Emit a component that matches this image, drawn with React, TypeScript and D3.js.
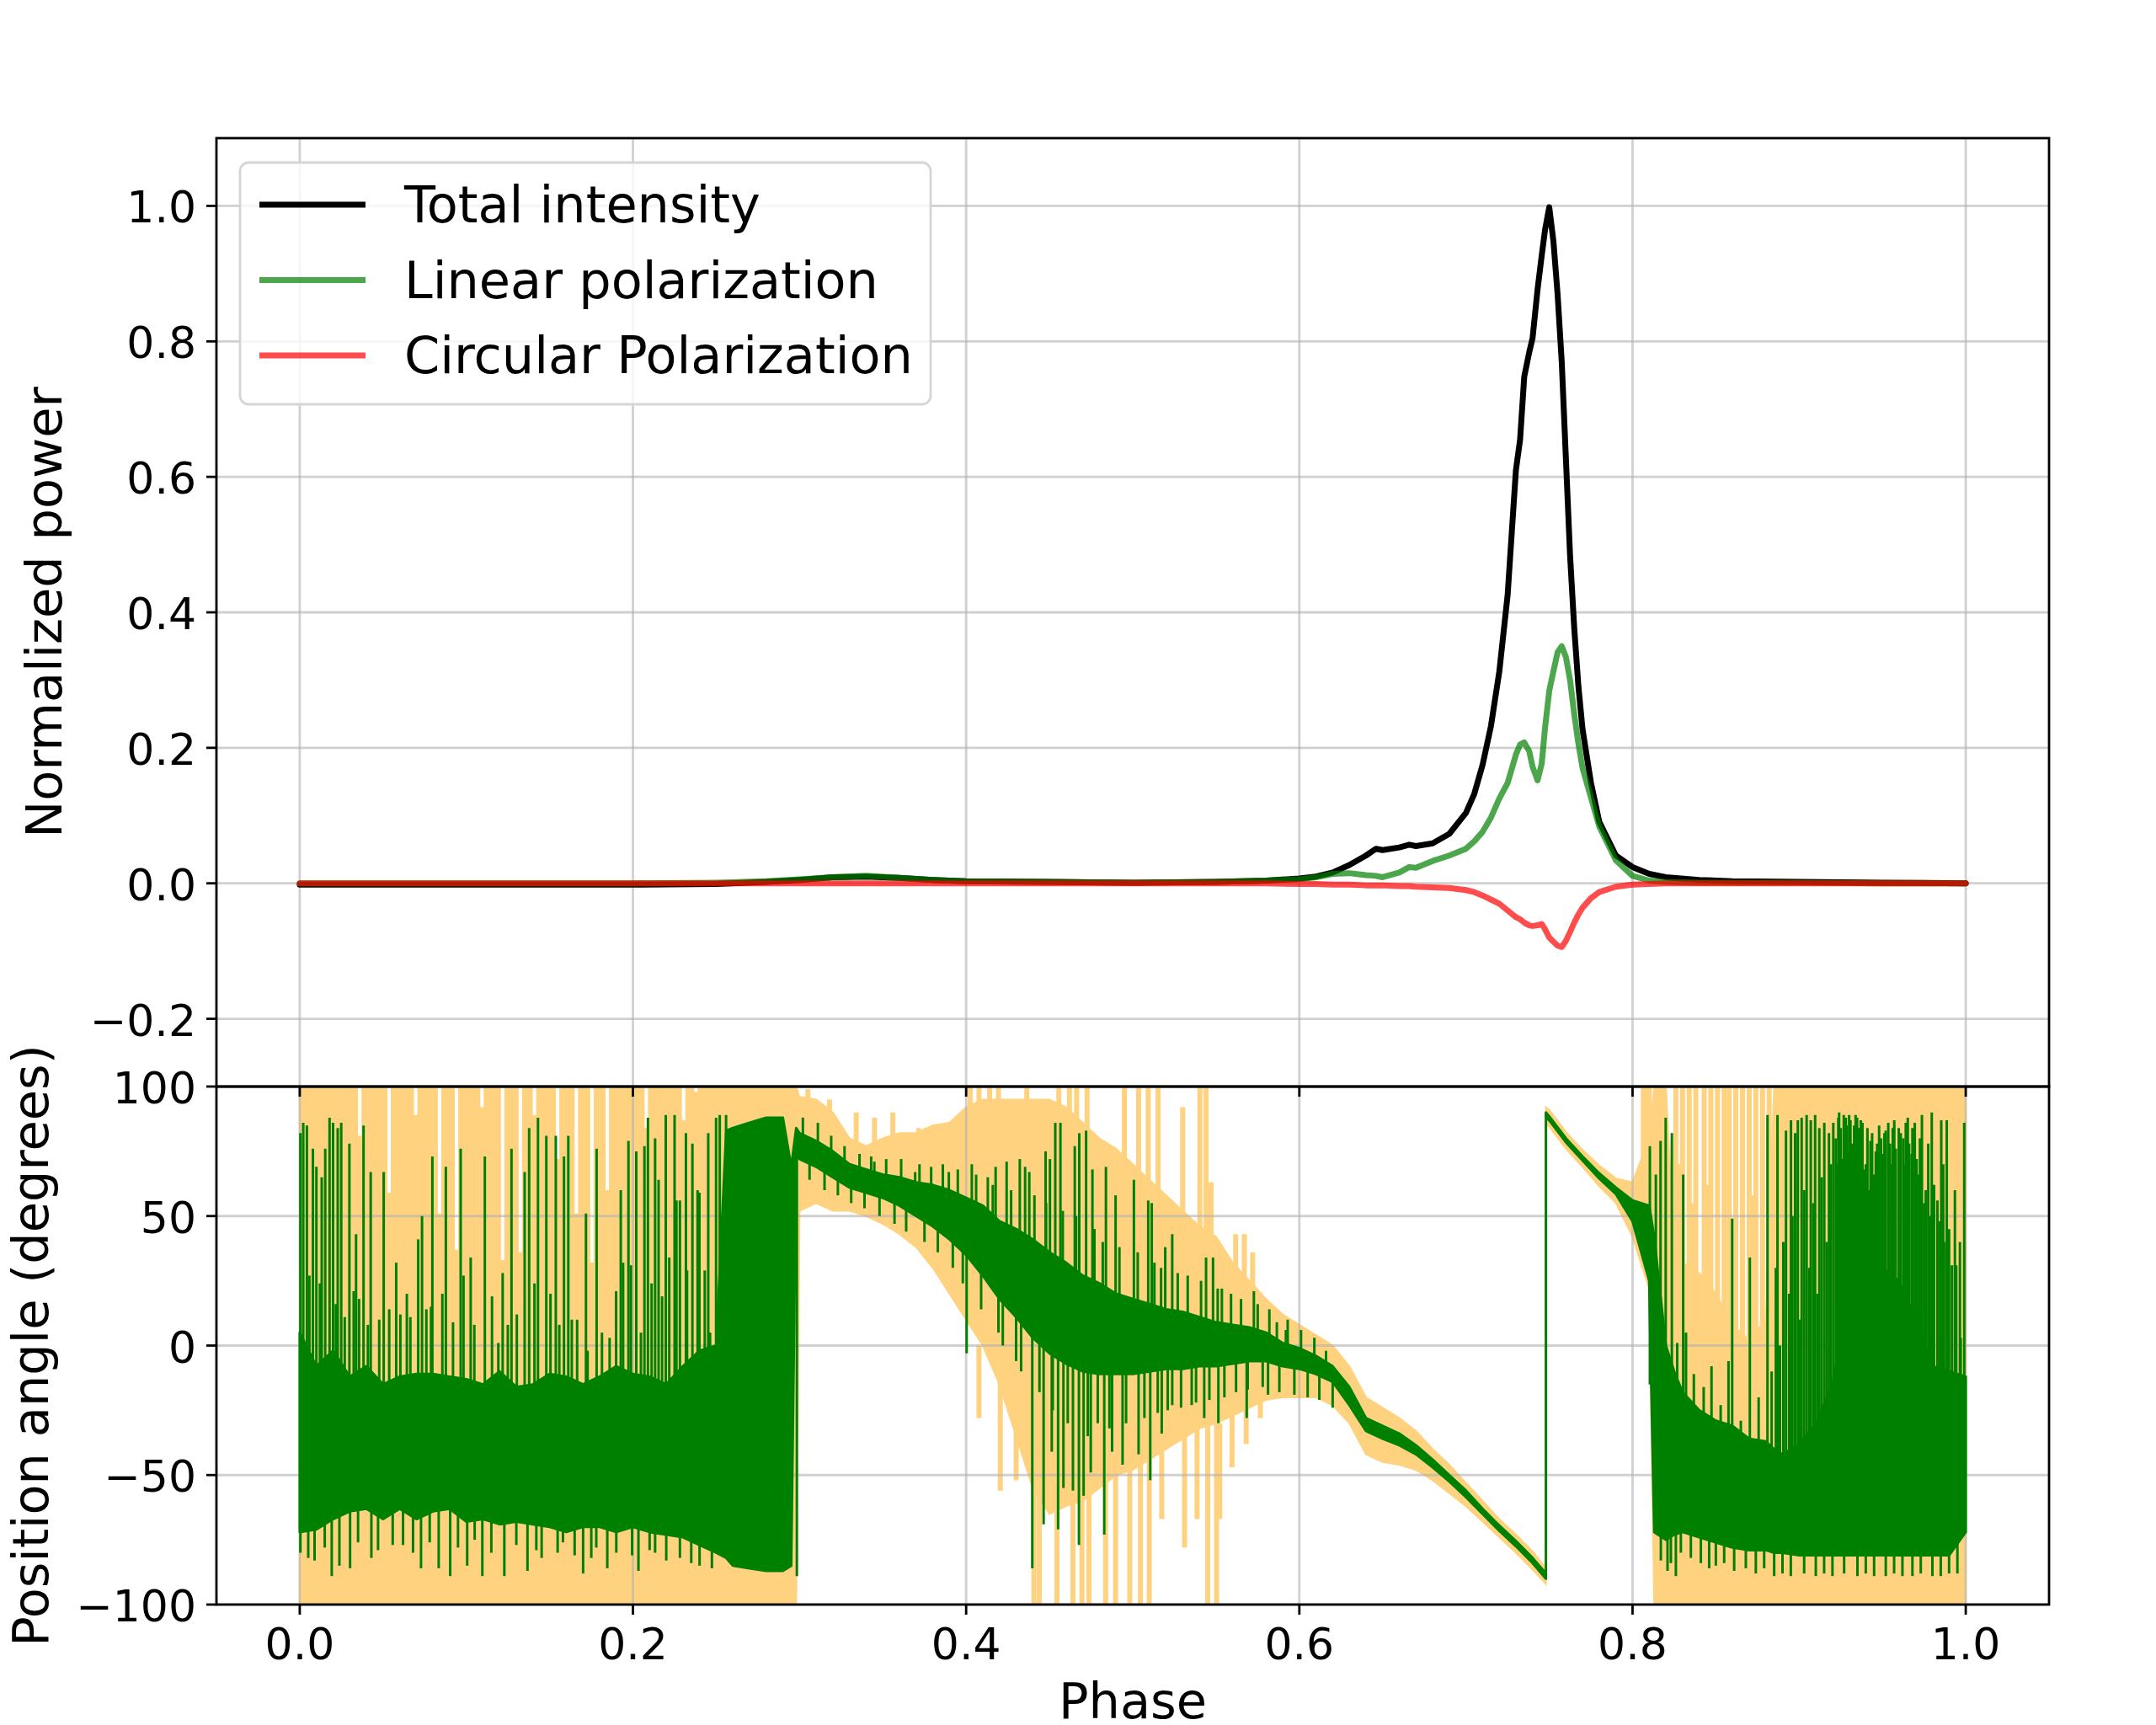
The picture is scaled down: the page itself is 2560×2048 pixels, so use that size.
import { useEffect } from 'react';
import * as d3 from 'd3';

// ---------- top panel: normalized profiles ----------
const TOP_PHASE = [
  0, 0.05, 0.1, 0.15, 0.2, 0.25, 0.28, 0.3, 0.32, 0.34,
  0.36, 0.38, 0.4, 0.45, 0.5, 0.55, 0.58, 0.6, 0.61, 0.62,
  0.63, 0.64, 0.646, 0.65, 0.66, 0.666, 0.67, 0.68, 0.69, 0.7,
  0.705, 0.71, 0.715, 0.72, 0.725, 0.73, 0.7325, 0.735, 0.738, 0.74,
  0.743, 0.7455, 0.7475, 0.75, 0.7525, 0.755, 0.7575, 0.76, 0.7625, 0.765,
  0.7675, 0.77, 0.775, 0.78, 0.79, 0.8, 0.81, 0.82, 0.84, 0.86,
  0.9, 0.95, 1.0,
];
const TOTAL_INTENSITY = [
  -0.002, -0.002, -0.002, -0.002, -0.002, -0.001, 0.002, 0.005, 0.009, 0.01,
  0.008, 0.005, 0.003, 0.002, 0.001, 0.002, 0.004, 0.007, 0.01, 0.016,
  0.027, 0.041, 0.051, 0.049, 0.053, 0.057, 0.055, 0.059, 0.073, 0.104,
  0.132, 0.175, 0.232, 0.312, 0.425, 0.61, 0.655, 0.748, 0.784, 0.805,
  0.877, 0.927, 0.965, 0.998, 0.948, 0.87, 0.77, 0.627, 0.484, 0.377,
  0.291, 0.227, 0.149, 0.091, 0.041, 0.024, 0.014, 0.009, 0.005, 0.003,
  0.002, 0.001, 0.0,
];
const LINEAR_POL = [
  0.0, 0.0, 0.0, 0.0, 0.0, 0.001, 0.003, 0.006, 0.009, 0.011,
  0.008, 0.005, 0.003, 0.002, 0.001, 0.002, 0.004, 0.006, 0.009, 0.014,
  0.015, 0.012, 0.011, 0.009, 0.016, 0.024, 0.023, 0.033, 0.041, 0.051,
  0.062, 0.076, 0.097, 0.125, 0.148, 0.19, 0.205, 0.208, 0.195, 0.172,
  0.152, 0.177, 0.23, 0.284, 0.313, 0.341, 0.35, 0.334, 0.3, 0.25,
  0.206, 0.17, 0.127, 0.084, 0.034, 0.011, 0.004, 0.002, 0.001, 0.001,
  0.001, 0.0, 0.0,
];
const CIRCULAR_POL = [
  0.0, 0.0, 0.0, 0.0, 0.0, 0.0, 0.0, 0.0, 0.0, 0.0,
  0.0, 0.0, 0.0, 0.0, 0.0, 0.0, 0.0, -0.001, -0.001, -0.002,
  -0.002, -0.003, -0.003, -0.003, -0.004, -0.004, -0.005, -0.006, -0.007, -0.01,
  -0.013, -0.018, -0.024, -0.03, -0.04, -0.05, -0.053, -0.058, -0.062, -0.063,
  -0.062, -0.06, -0.068, -0.08, -0.086, -0.092, -0.094, -0.085, -0.072, -0.058,
  -0.046, -0.036, -0.022, -0.013, -0.005, -0.002, -0.001, 0.0, 0.0, 0.0,
  0.0, 0.0, 0.0,
];
const LEGEND_LABELS = ['Total intensity', 'Linear polarization', 'Circular Polarization'];

// ---------- bottom panel: position angle ----------
const PA_PHASE = [
  0.0, 0.01, 0.02, 0.03, 0.04, 0.05, 0.06, 0.07, 0.08, 0.09,
  0.1, 0.11, 0.12, 0.13, 0.14, 0.15, 0.16, 0.17, 0.18, 0.19,
  0.2, 0.21, 0.22, 0.23, 0.24, 0.25, 0.256, 0.26, 0.27, 0.28,
  0.29, 0.295, 0.298, 0.3, 0.31, 0.32, 0.33, 0.34, 0.35, 0.36,
  0.37, 0.38, 0.39, 0.4, 0.41, 0.42, 0.43, 0.44, 0.45, 0.46,
  0.47, 0.48, 0.49, 0.5, 0.51, 0.52, 0.53, 0.54, 0.55, 0.56,
  0.57, 0.58, 0.59, 0.6, 0.61, 0.62, 0.63, 0.64, 0.65, 0.66,
  0.67, 0.68, 0.69, 0.7, 0.71, 0.72, 0.73, 0.74, 0.748, 0.748,
  0.75, 0.76, 0.77, 0.78, 0.79, 0.8, 0.81, 0.813, 0.82, 0.825,
  0.83, 0.84, 0.85, 0.86, 0.87, 0.88, 0.885, 0.89, 0.9, 0.91,
  0.92, 0.93, 0.94, 0.95, 0.96, 0.97, 0.98, 0.99, 1.0,
];
// upper / lower edge of the dense green band (degrees)
const PA_HI = [
  5, -8, -2, -12, -8, -15, -12, -11, -11, -12,
  -13, -15, -10, -16, -15, -11, -12, -15, -12, -8,
  -11, -12, -15, -8, -2, 0, 83, 84, 86, 88,
  88, 69, 84, 82, 79, 75, 70, 68, 66, 65,
  63, 62, 60, 57, 54, 48, 45, 41, 36, 32,
  27, 24, 20, 18, 16, 14, 13, 11, 9, 8,
  7, 5, 1, -1, -4, -8, -16, -28, -31, -34,
  -38.5, -44, -50, -56, -63, -69.5, -75.5, -82, -88, 90,
  88.5, 80, 73, 66.5, 61, 56, 54, 42, 0, -10,
  -18, -25, -29, -31, -36, -37, -40, -42, -38, -30,
  -15, 20, 25, 30, 25, 10, -8, -10, -12,
];
const PA_LO = [
  -72, -71, -67, -64, -63, -67, -63, -67, -64, -63,
  -68, -67, -69, -68, -69, -70, -72, -70, -70, -72,
  -70, -72, -73, -74, -77, -80, -82, -85, -86, -87,
  -87, -85, 74, 72, 69, 65, 61, 59, 57, 54,
  50, 46, 41, 35, 27, 18, 11, 3, -3, -7,
  -10, -11, -11, -11, -10, -9, -9, -8, -8, -7,
  -6, -6, -8, -9, -11, -14, -23, -33, -36, -38.5,
  -42, -47, -52.5, -58.5, -65, -71.5, -77.5, -84, -90, 88,
  87, 78.5, 71.5, 64.5, 58.5, 48, 25, -72, -75, -73,
  -72, -74, -76, -78, -79, -79, -80, -80, -81, -81,
  -81, -81, -81, -81, -81, -81, -81, -81, -72,
];
// upper / lower edge of the orange uncertainty band (degrees)
const ERR_HI = [
  100, 100, 100, 100, 100, 100, 100, 100, 100, 100,
  100, 100, 100, 100, 100, 100, 100, 100, 100, 100,
  100, 100, 100, 100, 100, 100, 100, 100, 100, 100,
  100, 100, 100, 96, 95, 90, 80, 77, 80, 82,
  82, 85, 86, 92, 95, 95, 95, 95, 95, 92,
  86, 80, 76, 70, 64, 58, 52, 46, 42, 32,
  25, 18, 12, 8, 4, 0, -8, -20, -24, -28,
  -33, -40, -46, -53, -60, -67, -73, -79.5, -86, 92,
  91, 82.5, 75.5, 69.5, 64.5, 63, 80, 100, 100, 36,
  32, 28, 20, 8, 2, 10, 100, 100, 100, 100,
  100, 100, 100, 100, 100, 100, 100, 100, 100,
];
const ERR_LO = [
  -100, -100, -100, -100, -100, -100, -100, -100, -100, -100,
  -100, -100, -100, -100, -100, -100, -100, -100, -100, -100,
  -100, -100, -100, -100, -100, -100, -100, -100, -100, -100,
  -100, -100, -100, 52, 55, 52, 52, 50, 47, 43,
  38, 30, 20, 10, 0, -15, -35, -55, -65, -62,
  -60, -55, -50, -48, -44, -40, -36, -32, -30, -27,
  -24, -21, -20, -20, -20, -23, -30, -42, -45, -46,
  -48, -52, -57, -62, -68, -74, -80, -86.5, -92, 86,
  84.5, 76, 69, 61.5, 55, 42, 22, -100, -100, -100,
  -100, -100, -100, -100, -100, -100, -100, -100, -100, -100,
  -100, -100, -100, -100, -100, -100, -100, -100, -100,
];
// single noisy samples sticking out of the green band: [phase, angle]
const PA_SPIKES: [number, number][] = [
  [0.0004, 82], [0.0021, 86], [0.0043, 85], [0.0079, 76], [0.01, 69], [0.0132, 65], [0.0153, 76],
  [0.0179, 88], [0.02, 86], [0.0228, 84], [0.0249, 86], [0.0298, 78], [0.0338, 43], [0.0383, 85],
  [0.0426, 67], [0.0504, 67], [0.0579, 32], [0.0643, 20], [0.0734, 50], [0.0796, 73], [0.0877, 69],
  [0.0966, 76], [0.1026, 34], [0.1111, 73], [0.1218, 28], [0.1271, 76], [0.135, 67], [0.1377, 84],
  [0.143, 88], [0.148, 81], [0.1537, 81], [0.1586, 73], [0.1612, 81], [0.1718, 51], [0.1782, 76],
  [0.1927, 60], [0.1973, 79], [0.202, 75], [0.2069, 77], [0.209, 88], [0.2133, 80], [0.2154, 64],
  [0.2197, 89], [0.225, 89], [0.2282, 56], [0.2318, 82], [0.2357, 78], [0.2399, 59], [0.2452, 82],
  [0.2499, 88], [0.2521, 89], [0.2559, 89],
  [0.0058, 27], [0.0121, 24], [0.0217, 16], [0.027, 11], [0.0324, 21], [0.0356, 18], [0.0409, 8],
  [0.0477, 10], [0.0537, 14], [0.0604, 12], [0.0664, 11], [0.0711, 41], [0.076, 14], [0.0788, 15],
  [0.0856, 20], [0.092, 9], [0.0983, 27], [0.1048, 8], [0.1154, 19], [0.1192, 1], [0.1249, 8],
  [0.1303, 12], [0.1409, 24], [0.1505, 20], [0.1558, 8], [0.1633, 10], [0.1665, 10], [0.1728, -2],
  [0.1814, 5], [0.186, 3], [0.1899, 21], [0.1941, 32], [0.1988, 31], [0.2048, 5], [0.2112, 24],
  [0.2175, 19], [0.2218, 34], [0.2261, 56], [0.2325, 29], [0.2388, 60], [0.2431, 29], [0.2463, 5],
  [0.0004, -80], [0.0051, -82], [0.0089, -83], [0.0192, -89], [0.0238, -85], [0.0302, -86],
  [0.043, -82], [0.0558, -77], [0.0728, -86], [0.0834, -86], [0.0903, -89], [0.1005, -85],
  [0.1096, -89], [0.1228, -89], [0.1367, -87], [0.1452, -82], [0.1548, -80], [0.1701, -88],
  [0.175, -82], [0.1846, -86], [0.1995, -81], [0.2033, -87], [0.2133, -80], [0.2282, -82], [0.2474, -86],
  [0.015, -78], [0.035, -76], [0.047, -79], [0.062, -77], [0.068, -80], [0.078, -76], [0.095, -78],
  [0.105, -75], [0.115, -80], [0.13, -77], [0.142, -79], [0.158, -76], [0.165, -81], [0.178, -78],
  [0.19, -80], [0.21, -79], [0.22, -83], [0.235, -84], [0.24, -85],
  [0.2984, -89],
  [0.302, 88], [0.306, 64], [0.311, 86], [0.315, 60], [0.319, 81], [0.323, 58], [0.327, 77],
  [0.331, 55], [0.336, 74], [0.339, 53], [0.343, 73], [0.348, 50], [0.352, 72], [0.357, 47],
  [0.361, 72], [0.364, 44], [0.372, 70], [0.375, 40], [0.379, 69], [0.383, 36], [0.386, 70],
  [0.392, 30], [0.395, 68], [0.398, 24], [0.406, 66], [0.409, 14], [0.416, 62], [0.422, 0],
  [0.427, 60], [0.433, -10], [0.441, 58], [0.444, -18], [0.448, 55], [0.452, -25], [0.458, 52],
  [0.461, -30], [0.466, 50], [0.473, -35], [0.477, 45], [0.479, -30], [0.482, 40], [0.486, -32],
  [0.492, 38], [0.496, -30], [0.503, 36], [0.507, -28], [0.513, 32], [0.515, -26], [0.517, 30],
  [0.521, -25], [0.527, 28], [0.529, -24], [0.533, 27], [0.538, -22], [0.541, 25], [0.546, -21],
  [0.551, 22], [0.555, -20], [0.559, 20], [0.562, -18], [0.565, 18], [0.569, -17], [0.575, 16],
  [0.578, -16], [0.582, 14], [0.588, -18], [0.593, 10], [0.597, -19], [0.601, 6], [0.605, -20],
  [0.609, 3], [0.612, -21], [0.616, -2], [0.62, -24],
  [0.3449, 71], [0.3694, 67], [0.3896, 67], [0.4034, 70], [0.413, 65], [0.4177, 69], [0.4243, 71],
  [0.4322, 72], [0.4354, 69], [0.4379, 67], [0.4477, 75], [0.4503, 72], [0.4535, 86], [0.4566, 86],
  [0.4652, 77], [0.4679, 82], [0.472, 83], [0.4758, 68], [0.4839, 69], [0.4897, 58], [0.5007, 64],
  [0.5093, 56], [0.5114, 55], [0.5195, 38], [0.5237, 43], [0.544, 34], [0.5482, 34], [0.5535, 22],
  [0.5727, 21], [0.5865, 9], [0.5919, 6],
  [0.4003, -3], [0.4194, 5], [0.43, -6], [0.4397, -86], [0.4465, -69], [0.4514, -41], [0.4552, -71],
  [0.4584, -55], [0.4641, -56], [0.4677, -77], [0.4705, -58], [0.4748, -49], [0.4829, -73],
  [0.4876, -41], [0.4939, -46], [0.5035, -42], [0.5105, -52], [0.5174, -34], [0.5237, -23],
  [0.5354, -23], [0.5429, -28], [0.5514, -30], [0.5684, -28], [0.5812, -19],
  [0.8104, 77], [0.814, 66], [0.8168, 79], [0.8199, 88], [0.8236, 82], [0.8304, 66], [0.8598, 49],
  [0.8704, 34], [0.881, 89], [0.887, 89], [0.8921, 83], [0.8951, 87], [0.8976, 82], [0.8992, 87],
  [0.9015, 88], [0.9045, 89], [0.907, 87], [0.9096, 89], [0.9121, 84], [0.9151, 86], [0.9179, 82],
  [0.924, 90], [0.9268, 89], [0.93, 89], [0.9339, 89], [0.937, 87], [0.9428, 79], [0.9492, 80],
  [0.9571, 87], [0.9598, 84], [0.9652, 88], [0.9694, 86], [0.9737, 89], [0.9796, 90], [0.9853, 87],
  [0.9886, 87], [0.9917, 31], [0.9943, 31], [0.997, 3], [0.9991, 86],
  [0.922, 80], [0.9255, 72], [0.9285, 85], [0.932, 78], [0.9355, 84], [0.94, 70], [0.946, 75],
  [0.952, 83], [0.9545, 78], [0.9625, 80], [0.9675, 74], [0.9715, 66], [0.976, 60], [0.983, 56], [0.987, 40],
  [0.9205, 86], [0.9225, 70], [0.9235, 88], [0.925, 84], [0.9262, 60], [0.928, 88], [0.9292, 75],
  [0.9308, 87], [0.9315, 65], [0.933, 85], [0.9348, 88], [0.936, 72], [0.938, 86], [0.939, 68],
  [0.941, 84], [0.9418, 60], [0.9438, 82], [0.945, 66], [0.9468, 78], [0.948, 85], [0.9505, 74],
  [0.9512, 82], [0.9535, 86], [0.9555, 70], [0.9562, 84], [0.958, 76], [0.961, 82], [0.9635, 70],
  [0.964, 86], [0.966, 78], [0.968, 84], [0.9705, 72], [0.9725, 80], [0.975, 55], [0.9775, 78],
  [0.9785, 50], [0.981, 62], [0.9845, 48], [0.9865, 70], [0.99, 45], [0.9935, 60], [0.9965, 40],
  [0.8835, -10], [0.886, 30], [0.8885, 0], [0.8905, 40], [0.894, 20], [0.896, 50], [0.9005, 10],
  [0.903, 60], [0.906, 30], [0.9085, 55], [0.911, 20], [0.9135, 65], [0.9165, 40], [0.919, 70],
  [0.8268, 1], [0.8321, 5], [0.8368, -11], [0.8427, -16], [0.8474, -8], [0.8529, -23], [0.8576, -6],
  [0.865, -29], [0.8757, -20],
  [0.817, -83], [0.821, -87], [0.826, -89], [0.85, -85], [0.89, -88], [0.92, -89], [0.945, -89],
  [0.962, -89], [0.98, -89], [0.995, -88],
  [0.823, -84], [0.829, -80], [0.835, -82], [0.841, -84], [0.846, -86], [0.855, -84], [0.861, -87],
  [0.868, -86], [0.874, -88], [0.879, -86], [0.885, -89], [0.895, -89], [0.903, -88], [0.91, -89],
  [0.915, -88], [0.927, -88], [0.935, -89], [0.94, -88], [0.952, -89], [0.957, -88], [0.968, -89],
  [0.973, -88], [0.985, -89], [0.99, -88],
];
// long single error bars: [phase, from, to]
const ERR_SPIKES: [number, number, number][] = [
  [0.305, 80, 99], [0.318, 70, 95], [0.334, 65, 90], [0.345, 65, 88], [0.356, 60, 90],
  [0.3715, 60, 84], [0.376, 60, 84], [0.382, 55, 78], [0.3929, 50, 86], [0.3982, 50, 86],
  [0.4024, 40, 100], [0.4077, 40, 100], [0.4141, 40, 100], [0.4194, 40, 100], [0.4364, 40, 100],
  [0.4556, 40, 100], [0.462, 40, 100], [0.4663, 40, 100], [0.4726, 40, 100], [0.495, 30, 100],
  [0.5035, 30, 100], [0.5093, 30, 100], [0.5152, 30, 100], [0.53, 20, 92], [0.5403, 20, 100],
  [0.544, 20, 100], [0.547, 20, 63], [0.5618, 10, 43], [0.567, 10, 43], [0.572, 10, 36],
  [0.4077, 0, -28], [0.4205, -10, -56], [0.43, -20, -52], [0.4407, -40, -100], [0.4439, -40, -100],
  [0.4545, -40, -100], [0.4641, -40, -100], [0.4695, -40, -100], [0.4737, -40, -100],
  [0.4837, -40, -100], [0.4897, -40, -100], [0.4982, -40, -100], [0.5046, -40, -100],
  [0.5099, -40, -100], [0.5174, -30, -67], [0.5311, -30, -78], [0.5386, -30, -67], [0.545, -30, -100],
  [0.5503, -30, -100], [0.5522, -30, -67], [0.5596, -20, -47], [0.5681, -20, -38], [0.5766, -20, -28],
  [0.8065, 30, 100], [0.8087, 30, 100], [0.81, 25, 100],
  [0.826, -60, 100], [0.83, -60, 100], [0.834, -60, 100], [0.838, -60, 100], [0.843, -60, 100],
  [0.847, -60, 100], [0.851, -60, 100], [0.855, -60, 100], [0.858, -60, 100], [0.862, -60, 100],
  [0.866, -60, 100], [0.87, -60, 100], [0.874, -60, 100], [0.878, -60, 100], [0.882, -60, 100],
  [0.828, -60, 70], [0.836, -60, 55], [0.845, -60, 62], [0.86, -60, 45], [0.872, -60, 58],
];
// thin white openings at the top of the orange band: [phase, lowest angle]
const ERR_GAPS: [number, number][] = [
  [0.036, 81], [0.0536, 59], [0.0696, 89], [0.0839, 51], [0.0941, 37], [0.1094, 92], [0.1218, 33],
  [0.1324, 36], [0.1409, 89], [0.1548, 72], [0.166, 51], [0.1754, 32], [0.1846, 60], [0.208, 84],
  [0.2304, 87], [0.2378, 98],
];

const X_TICKS = [0, 0.2, 0.4, 0.6, 0.8, 1.0];
const TOP_Y_TICKS = [-0.2, 0, 0.2, 0.4, 0.6, 0.8, 1.0];
const BOT_Y_TICKS = [-100, -50, 0, 50, 100];

const W = 2560;
const H = 2048;
const LEFT = 257;
const RIGHT = 2433;
const TOP = 164;
const MID = 1290;
const BOTTOM = 1905;
const TICK = 12;
const FONT = "'DejaVu Sans', sans-serif";
const GRID = '#b0b0b0';
const ORANGE = '#ffd280';
const SPINE = 2.8;

export default function App() {
  useEffect(() => {
    document.body.style.margin = '0';
  }, []);

  const x = d3.scaleLinear().domain([-0.05, 1.05]).range([LEFT, RIGHT]);
  const yTop = d3.scaleLinear().domain([-0.3, 1.1]).range([MID, TOP]);
  const yBot = d3.scaleLinear().domain([-100, 100]).range([BOTTOM, MID]);

  const profile = (vals: number[]) =>
    d3
      .line<number>()
      .x((_, i) => x(TOP_PHASE[i]))
      .y((d) => yTop(d))(vals) ?? '';

  const errPath =
    d3
      .area<number>()
      .x((_, i) => x(PA_PHASE[i]))
      .y0((_, i) => yBot(ERR_LO[i]))
      .y1((d) => yBot(d))(ERR_HI) ?? '';

  const corePath =
    d3
      .area<number>()
      .x((_, i) => x(PA_PHASE[i]))
      .y0((_, i) => yBot(PA_LO[i]))
      .y1((d) => yBot(d))(PA_HI) ?? '';

  // spikes start from the middle of the band at the nearest sample
  const bandMid = (p: number) => {
    const i = Math.min(PA_PHASE.length - 1, d3.bisectLeft(PA_PHASE, p));
    return (PA_HI[i] + PA_LO[i]) / 2;
  };

  const fmtTop = d3.format('.1f');
  const fmtBot = d3.format('d');

  const series = [
    { vals: TOTAL_INTENSITY, color: 'black', opacity: 1 },
    { vals: LINEAR_POL, color: 'green', opacity: 0.7 },
    { vals: CIRCULAR_POL, color: 'red', opacity: 0.7 },
  ];

  return (
    <svg width={W} height={H} style={{ display: 'block', background: 'white' }} fontFamily={FONT}>
      <defs>
        <clipPath id="clipTop">
          <rect x={LEFT} y={TOP} width={RIGHT - LEFT} height={MID - TOP} />
        </clipPath>
        <clipPath id="clipBot">
          <rect x={LEFT} y={MID} width={RIGHT - LEFT} height={BOTTOM - MID} />
        </clipPath>
      </defs>

      {/* ---------- top panel ---------- */}
      <g stroke={GRID} strokeOpacity={0.6} strokeWidth={SPINE}>
        {X_TICKS.map((t) => (
          <line key={t} x1={x(t)} x2={x(t)} y1={TOP} y2={MID} />
        ))}
        {TOP_Y_TICKS.map((t) => (
          <line key={t} x1={LEFT} x2={RIGHT} y1={yTop(t)} y2={yTop(t)} />
        ))}
      </g>
      <g clipPath="url(#clipTop)" fill="none" strokeLinejoin="round" strokeLinecap="round">
        {series.map((s) => (
          <path key={s.color} d={profile(s.vals)} stroke={s.color} strokeOpacity={s.opacity} strokeWidth={7} />
        ))}
      </g>

      {/* legend */}
      <rect x={285} y={193} width={820} height={287} rx={10} fill="white" fillOpacity={0.8} stroke="#d5d5d5" strokeWidth={2.8} />
      {LEGEND_LABELS.map((label, i) => {
        const ly = 243 + i * 89.5;
        return (
          <g key={label}>
            <line x1={308} x2={434} y1={ly} y2={ly} stroke={series[i].color} strokeOpacity={series[i].opacity} strokeWidth={7} />
            <text x={480} y={ly + 21} fontSize={60.5} fill="black">
              {label}
            </text>
          </g>
        );
      })}

      {/* ---------- bottom panel ---------- */}
      <g clipPath="url(#clipBot)">
        <path d={errPath} fill={ORANGE} stroke={ORANGE} strokeWidth={2} />
        {ERR_SPIKES.map(([p, a, b], i) => (
          <line key={i} x1={x(p)} x2={x(p)} y1={yBot(a)} y2={yBot(b)} stroke={ORANGE} strokeWidth={6} />
        ))}
        {ERR_GAPS.map(([p, a], i) => (
          <line key={i} x1={x(p)} x2={x(p)} y1={yBot(a)} y2={yBot(101)} stroke="white" strokeWidth={4} />
        ))}
      </g>
      <g stroke={GRID} strokeOpacity={0.6} strokeWidth={SPINE}>
        {X_TICKS.map((t) => (
          <line key={t} x1={x(t)} x2={x(t)} y1={MID} y2={BOTTOM} />
        ))}
        {BOT_Y_TICKS.map((t) => (
          <line key={t} x1={LEFT} x2={RIGHT} y1={yBot(t)} y2={yBot(t)} />
        ))}
      </g>
      <g clipPath="url(#clipBot)">
        <path d={corePath} fill="green" stroke="green" strokeWidth={3} strokeLinejoin="round" />
        {PA_SPIKES.map(([p, v], i) => (
          <line key={i} x1={x(p)} x2={x(p)} y1={yBot(bandMid(p))} y2={yBot(v)} stroke="green" strokeWidth={3} />
        ))}
      </g>

      {/* ---------- frames, ticks, labels ---------- */}
      <g fill="none" stroke="black" strokeWidth={SPINE}>
        <rect x={LEFT} y={TOP} width={RIGHT - LEFT} height={MID - TOP} />
        <rect x={LEFT} y={MID} width={RIGHT - LEFT} height={BOTTOM - MID} />
        {X_TICKS.map((t) => (
          <g key={t}>
            <line x1={x(t)} x2={x(t)} y1={MID} y2={MID + TICK} />
            <line x1={x(t)} x2={x(t)} y1={BOTTOM} y2={BOTTOM + TICK} />
          </g>
        ))}
        {TOP_Y_TICKS.map((t) => (
          <line key={t} x1={LEFT - TICK} x2={LEFT} y1={yTop(t)} y2={yTop(t)} />
        ))}
        {BOT_Y_TICKS.map((t) => (
          <line key={t} x1={LEFT - TICK} x2={LEFT} y1={yBot(t)} y2={yBot(t)} />
        ))}
      </g>

      <g fontSize={52} fill="black">
        {TOP_Y_TICKS.map((t) => (
          <text key={t} x={LEFT - TICK - 12} y={yTop(t) + 20} textAnchor="end">
            {fmtTop(t)}
          </text>
        ))}
        {BOT_Y_TICKS.map((t) => (
          <text key={t} x={LEFT - TICK - 12} y={yBot(t) + 20} textAnchor="end">
            {fmtBot(t)}
          </text>
        ))}
        {X_TICKS.map((t) => (
          <text key={t} x={x(t)} y={1970} textAnchor="middle">
            {fmtTop(t)}
          </text>
        ))}
      </g>

      <g fontSize={59} fill="black" textAnchor="middle">
        <text x={(LEFT + RIGHT) / 2} y={2040}>
          Phase
        </text>
        <text transform={`translate(73,${(TOP + MID) / 2}) rotate(-90)`}>Normalized power</text>
        <text transform={`translate(57,${(MID + BOTTOM) / 2}) rotate(-90)`}>Position angle (degrees)</text>
      </g>
    </svg>
  );
}
